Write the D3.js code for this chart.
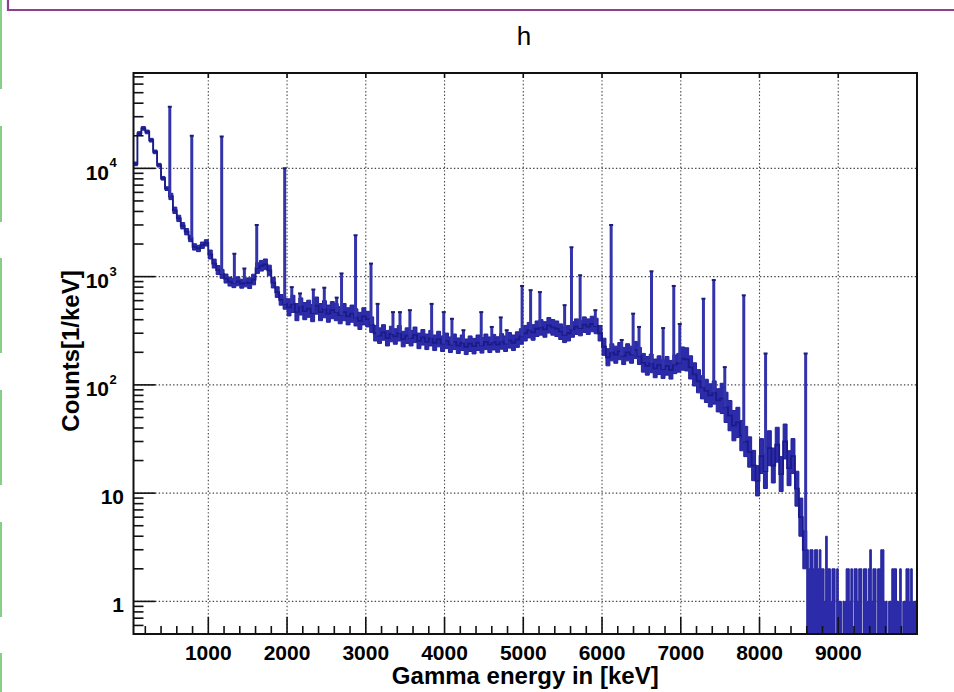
<!DOCTYPE html>
<html><head><meta charset="utf-8">
<script src="https://cdn.jsdelivr.net/npm/d3@7"></script>
<style>html,body{margin:0;padding:0;background:#fff;} svg{display:block}</style>
</head><body>
<svg id="c" width="954" height="692"></svg>
<script>
const title = "h";
const xTitle = "Gamma energy in [keV]";
const yTitle = "Counts[1/keV]";
const xTicks = [1000,2000,3000,4000,5000,6000,7000,8000,9000];
const xTickLabels = ["1000","2000","3000","4000","5000","6000","7000","8000","9000"];
const yTicks = [1,10,100,1000,10000];
const yTickBase = ["1","10","10","10","10"];
const yTickExp = ["","","2","3","4"];

// continuum, 50 keV bins starting at 50 keV
const binStart = 50, binWidth = 50;
const counts = [
11000,21000,23400,21700,18200,14200,10700,8100,6500,5500,
4100,3450,2950,2600,2250,1880,1820,1950,2050,1600,
1320,1150,1060,960,900,870,905,860,885,870,
940,1200,1260,1300,1140,880,720,610,560,520,
560,470,530,480,505,460,540,470,500,455,
490,470,440,470,430,455,420,390,430,405,
360,300,285,305,270,295,280,300,265,285,
270,290,255,275,250,270,245,265,240,255,
235,250,230,245,225,240,228,245,232,250,
235,248,236,252,240,258,245,262,280,300,
320,305,330,340,325,355,340,330,310,290,
300,325,345,335,360,345,365,350,300,225,
180,200,190,205,185,200,190,210,185,160,
150,158,142,152,140,150,138,155,160,175,
172,145,125,108,95,88,80,85,72,75,
62,52,42,45,34,30,24,18,13,22,
16,26,18,28,15,30,17,22,11,6,
3
];
// fluctuation envelope (ratio of band edge to bin value), per 500 keV from 0 keV
const bandStart = 0, bandWidth = 500;
const bandSpread = [1.04,1.07,1.1,1.12,1.2,1.2,1.18,1.18,1.18,1.18,1.18,1.18,1.2,1.22,1.28,1.38,1.45,1.5];

// low-count tail, 20 keV bins starting at 8600 keV
const tailStart = 8600, tailWidth = 20;
const tailCounts = [
3,2,3,3,2,3,3,2,3,2,
2,1,4,2,2,1,2,2,0,2,
1,1,0,1,1,2,2,1,2,0,
2,2,1,2,2,0,2,2,1,2,
3,1,2,2,0,2,2,3,3,1,
1,0,1,1,2,2,2,1,1,2,
0,1,1,2,2,1,2,1,1,1
];
// gamma lines: energy (keV) and peak height (counts/keV)
const peakEnergy = [511,790,1170,1331,1458,1615,1970,2060,2165,2334,2473,2630,2692,2870,3066,3150,3345,3434,3560,3836,3990,4094,4240,4466,4600,4714,4790,4985,5093,5211,5525,5612,5722,5915,6116,6250,6395,6470,6628,6776,6911,6987,7288,7419,7559,7800,8077,8586];
const peakHeight = [37000,20000,19700,1630,1190,2990,10000,800,700,760,790,640,1070,2410,1320,560,470,470,490,560,470,408,320,470,343,420,320,820,750,720,545,1870,1030,490,3000,260,455,343,1120,335,820,365,625,930,146,672,195,195];

const svg = d3.select("#c");
const L = 133.5, R = 917, T = 73, B = 634;
const x = d3.scaleLinear().domain([50, 10000]).range([L, R]);
const y = d3.scaleLog().domain([0.5, 76000]).range([B, T]);
const blue = "#24249c";
const bandBlue = "#2c2cab";
const font = "'Liberation Sans', Arial, Helvetica, sans-serif";

// page decorations
svg.append("path").attr("d", "M8,0 V10 H954").attr("fill","none").attr("stroke","#8e3f8e").attr("stroke-width",2.2);
[[0,89],[126,222],[258,353],[390,485],[522,617],[653,692]].forEach(s=>{
  svg.append("rect").attr("x",0).attr("y",s[0]).attr("width",2).attr("height",s[1]-s[0]).attr("fill","#86cf86");
});

// title
svg.append("text").attr("x",524).attr("y",45).attr("text-anchor","middle")
  .attr("font-family",font).attr("font-size",26).text(title);

// grid
const grid = svg.append("g").attr("stroke","#444").attr("stroke-width",1.1).attr("stroke-dasharray","1.4,2.2");
xTicks.forEach(v=>grid.append("line").attr("x1",x(v)).attr("x2",x(v)).attr("y1",T).attr("y2",B));
yTicks.forEach(v=>grid.append("line").attr("x1",L).attr("x2",R).attr("y1",y(v)).attr("y2",y(v)));

// data
svg.append("clipPath").attr("id","clip").append("rect").attr("x",L).attr("y",T).attr("width",R-L).attr("height",B-T);
const dg = svg.append("g").attr("clip-path","url(#clip)");

const pts = counts.map((v,i)=>{
  const e = binStart+i*binWidth;
  const s = bandSpread[Math.min(bandSpread.length-1, Math.floor((e-bandStart)/bandWidth))];
  return [e, v, s];
});
const last = pts[pts.length-1];
pts.push([binStart+counts.length*binWidth, last[1], last[2]]);

// fluctuation band
const band = d3.area().x(d=>x(d[0])).y0(d=>y(d[1]/d[2])).y1(d=>y(d[1]*d[2])).curve(d3.curveStepAfter);
dg.append("path").attr("d", band(pts)).attr("fill",bandBlue).attr("stroke","#22229a").attr("stroke-width",1);

const stepLine = d3.line().x(d=>x(d[0])).y(d=>y(d[1])).curve(d3.curveStepAfter);
dg.append("path").attr("d", stepLine(pts)).attr("fill","none").attr("stroke","#1a1a88").attr("stroke-width",1.8);

// tail
const tpts = tailCounts.map((v,i)=>[tailStart+i*tailWidth, v]);
tpts.push([tailStart+tailCounts.length*tailWidth, tailCounts[tailCounts.length-1]]);
const tailArea = d3.area().x(d=>x(d[0])).y0(B+10).y1(d=>d[1]>0?y(d[1]):B+10).curve(d3.curveStepAfter);
dg.append("path").attr("d", tailArea(tpts)).attr("fill",bandBlue).attr("stroke",blue).attr("stroke-width",1);
dg.append("line").attr("x1",x(tailStart)).attr("x2",x(tailStart))
  .attr("y1",y(counts[counts.length-1])).attr("y2",y(tailCounts[0])).attr("stroke",blue).attr("stroke-width",2.4);

// peaks
peakEnergy.forEach((e,i)=>{
  const bi = Math.min(counts.length-1, Math.floor((e-binStart)/binWidth));
  const base = e >= tailStart ? tailCounts[0] : counts[bi];
  dg.append("line").attr("x1",x(e)).attr("x2",x(e)).attr("y1",y(base)).attr("y2",y(peakHeight[i]))
    .attr("stroke","#3434aa").attr("stroke-width",3);
  dg.append("line").attr("x1",x(e)-2).attr("x2",x(e)+2).attr("y1",y(peakHeight[i])).attr("y2",y(peakHeight[i]))
    .attr("stroke","#1c1c70").attr("stroke-width",2);
});

// ticks
const tk = svg.append("g").attr("stroke","#111").attr("stroke-width",1.6);
for (let v=200; v<10000; v+=200) {
  const major = v % 1000 === 0;
  tk.append("line").attr("x1",x(v)).attr("x2",x(v)).attr("y1",B).attr("y2",B-(major?17:8));
  if (major) tk.append("line").attr("x1",x(v)).attr("x2",x(v)).attr("y1",T).attr("y2",T+5);
}
[0.1,1,10,100,1000,10000].forEach(d=>{
  for (let m=1;m<=9;m++){
    const v=m*d;
    if (v<0.5 || v>76000) continue;
    const major = m===1;
    tk.append("line").attr("x1",L).attr("x2",L+(major?22:10)).attr("y1",y(v)).attr("y2",y(v));
  }
});

// frame
svg.append("rect").attr("x",L).attr("y",T).attr("width",R-L).attr("height",B-T)
  .attr("fill","none").attr("stroke","#111").attr("stroke-width",2);

// x tick labels
xTicks.forEach((v,i)=>{
  svg.append("text").attr("x",x(v)).attr("y",660).attr("text-anchor","middle")
    .attr("font-family",font).attr("font-weight","bold").attr("font-size",21).text(xTickLabels[i]);
});
// y tick labels
yTicks.forEach((v,i)=>{
  if (yTickExp[i]==="") {
    svg.append("text").attr("x",124).attr("y",y(v)+10.5).attr("text-anchor","end")
      .attr("font-family",font).attr("font-weight","bold").attr("font-size",21).text(yTickBase[i]);
  } else {
    svg.append("text").attr("x",109).attr("y",y(v)+11.5).attr("text-anchor","end")
      .attr("font-family",font).attr("font-weight","bold").attr("font-size",21).text(yTickBase[i]);
    svg.append("text").attr("x",109.5).attr("y",y(v)-1).attr("text-anchor","start")
      .attr("font-family",font).attr("font-weight","bold").attr("font-size",13).text(yTickExp[i]);
  }
});

// axis titles
svg.append("text").attr("x",(L+R)/2).attr("y",684).attr("text-anchor","middle")
  .attr("font-family",font).attr("font-weight","bold").attr("font-size",24).text(xTitle);
svg.append("text").attr("transform","translate(79,351) rotate(-90)").attr("text-anchor","middle")
  .attr("font-family",font).attr("font-weight","bold").attr("font-size",24).text(yTitle);
</script>
</body></html>
